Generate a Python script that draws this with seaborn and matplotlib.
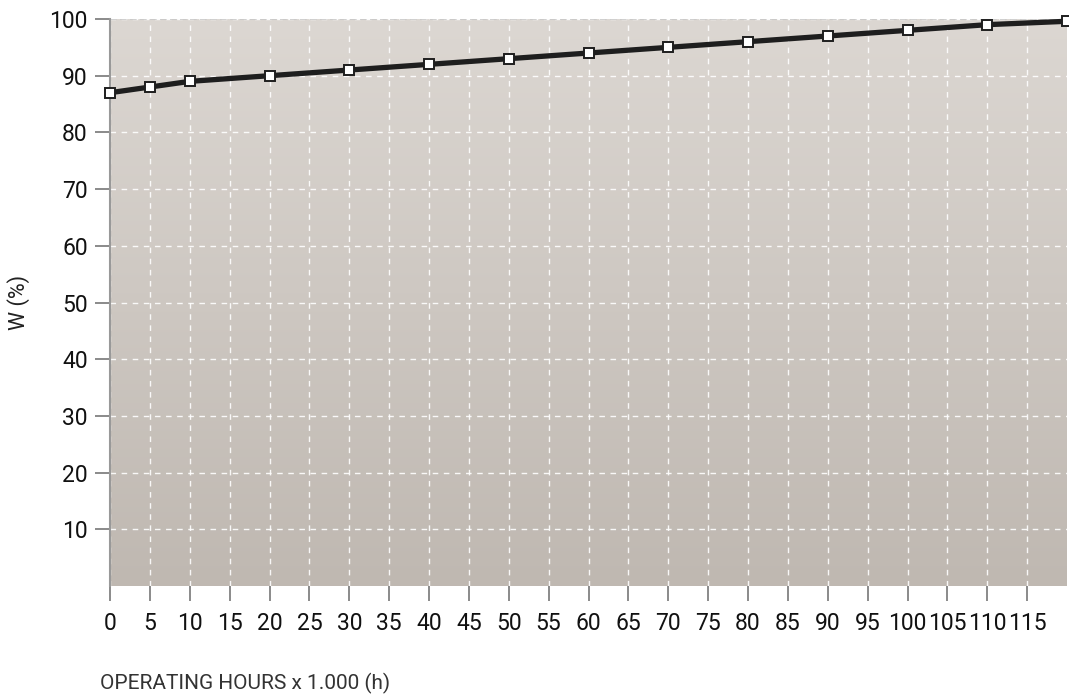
import numpy as np
import pandas as pd
import matplotlib
matplotlib.use("Agg")
import matplotlib.pyplot as plt
import seaborn as sns
from matplotlib.colors import LinearSegmentedColormap

sns.set_theme(style="white")
plt.rcParams['font.family'] = ['Roboto', 'DejaVu Sans']

# data
hours = [0, 5, 10, 20, 30, 40, 50, 60, 70, 80, 90, 100, 110, 120]
w_pct = [87, 88, 89, 90, 91, 92, 93, 94, 95, 96, 97, 98, 99, 99.6]
x_ticks = list(range(0, 120, 5))
y_ticks = list(range(10, 101, 10))

df = pd.DataFrame({'hours': hours, 'w': w_pct})

fig = plt.figure(figsize=(10.69, 6.99), dpi=100)
ax = fig.add_axes([110 / 1069, 1 - 586 / 699, 957 / 1069, 567 / 699])

# vertical gradient background (light at top, darker at bottom)
cmap = LinearSegmentedColormap.from_list('bg', ['#bfb8b1', '#dcd7d2'])
grad = np.linspace(0, 1, 256).reshape(-1, 1)
ax.imshow(grad, cmap=cmap, aspect='auto', extent=[0, 120, 100, 0], zorder=0)

sns.lineplot(data=df, x='hours', y='w', ax=ax, color='#1e1e1e', linewidth=3.8,
             marker='s', markersize=7, markerfacecolor='white',
             markeredgecolor='#1e1e1e', markeredgewidth=1.4, zorder=5, clip_on=False)

ax.set_xlim(0, 120)
ax.set_ylim(0, 100)
ax.set_xticks(x_ticks)
ax.set_yticks(y_ticks)
ax.grid(True, color='white', linestyle=(0, (4, 4)), linewidth=1, alpha=0.9)
for line in ax.get_xgridlines() + ax.get_ygridlines():
    line.set_zorder(1)

for s in ['top', 'right', 'bottom']:
    ax.spines[s].set_visible(False)
ax.spines['left'].set_color('#999999')
ax.spines['left'].set_linewidth(1.5)
ax.axhline(100, color='#c8c8c8', linestyle=(0, (4, 2)), linewidth=1.2, zorder=2)

ax.tick_params(axis='both', length=11, width=1.4, color='#8a8a8a',
               labelsize=16.5, labelcolor='#111111', left=True, bottom=True)
ax.tick_params(axis='x', pad=8)
ax.tick_params(axis='y', pad=5)

ax.set_xlabel('')
ax.set_ylabel('W (%)', fontsize=15.5, color='#222222')
ax.yaxis.set_label_coords((30 - 110) / 957, 0.5)
fig.text(100 / 1069, 1 - 683 / 699, 'OPERATING HOURS x 1.000 (h)', fontsize=15,
         color='#333333', va='center', ha='left')

fig.savefig('out.png', dpi=100)
